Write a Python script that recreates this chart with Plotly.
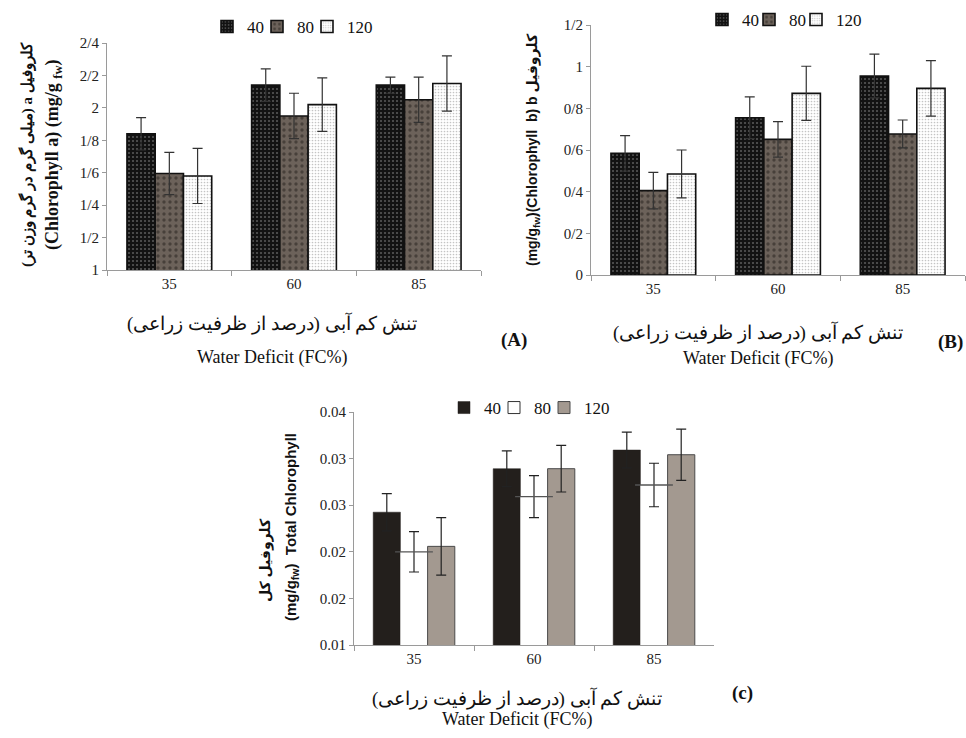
import plotly.graph_objects as go

categories = ["35", "60", "85"]
series_names = ["40", "80", "120"]

a40 = [1.84, 2.14, 2.14]
a40_err = [0.10, 0.10, 0.05]
a80 = [1.595, 1.95, 2.05]
a80_err = [0.13, 0.14, 0.14]
a120 = [1.58, 2.02, 2.15]
a120_err = [0.17, 0.165, 0.17]

b40 = [0.584, 0.755, 0.955]
b40_err = [0.085, 0.10, 0.105]
b80 = [0.405, 0.651, 0.677]
b80_err = [0.088, 0.085, 0.067]
b120 = [0.485, 0.872, 0.896]
b120_err = [0.115, 0.13, 0.133]

c40 = [0.0271, 0.0327, 0.0351]
c40_err = [0.0024, 0.0023, 0.0023]
c80 = [0.0220, 0.0291, 0.0306]
c80_err = [0.0026, 0.0027, 0.0028]
c120 = [0.0227, 0.0327, 0.0345]
c120_err = [0.0037, 0.0030, 0.0033]

a_tickvals = [1, 1.2, 1.4, 1.6, 1.8, 2, 2.2, 2.4]
a_ticktext = ["1", "1/2", "1/4", "1/6", "1/8", "2", "2/2", "2/4"]
b_tickvals = [0, 0.2, 0.4, 0.6, 0.8, 1.0, 1.2]
b_ticktext = ["0", "0/2", "0/4", "0/6", "0/8", "1", "1/2"]
c_tickvals = [0.01, 0.016, 0.022, 0.028, 0.034, 0.04]
c_ticktext = ["0.01", "0.02", "0.02", "0.03", "0.03", "0.04"]

W, H = 966, 738
SERIF = "Liberation Serif, Times New Roman, DejaVu Serif, serif"
SANS = "Liberation Sans, Arial, DejaVu Sans, sans-serif"
RLE, PDF = "\u202b", "\u202c"

def px(x):
    return x / W

def py(y):
    return 1 - y / H

fig = go.Figure()

pat_styles = [
    dict(bg="#121212", fg="#9a9a9a", size=4, sol=0.22),
    dict(bg="#6c625a", fg="#221d19", size=6, sol=0.25),
    dict(bg="#ffffff", fg="#8a8a8a", size=3, sol=0.25),
]
leg_widths = {"40": 5, "80": 5, "120": 32}

def err(arr, color="#333333", w=5):
    return dict(type="data", array=arr, visible=True, color=color, thickness=1.2, width=w)

# Panel A
for name, vals, e, st in zip(series_names, [a40, a80, a120], [a40_err, a80_err, a120_err], pat_styles):
    fig.add_trace(go.Bar(
        x=categories, y=vals, name=name, xaxis="x", yaxis="y", legend="legend",
        offsetgroup=name, legendwidth=leg_widths[name],
        marker=dict(color=st["bg"], line=dict(color="#111111", width=1.6),
                    pattern=dict(shape=".", bgcolor=st["bg"], fgcolor=st["fg"],
                                 size=st["size"], solidity=st["sol"], fillmode="overlay")),
        error_y=err(e),
    ))

# Panel B
for name, vals, e, st in zip(series_names, [b40, b80, b120], [b40_err, b80_err, b120_err], pat_styles):
    fig.add_trace(go.Bar(
        x=categories, y=vals, name=name, xaxis="x2", yaxis="y2", legend="legend2",
        offsetgroup=name, legendwidth=leg_widths[name] - 3 if name != "120" else 32,
        marker=dict(color=st["bg"], line=dict(color="#111111", width=1.6),
                    pattern=dict(shape=".", bgcolor=st["bg"], fgcolor=st["fg"],
                                 size=st["size"], solidity=st["sol"], fillmode="overlay")),
        error_y=err(e),
    ))

# Panel C
c_colors = ["#231f1c", "#ffffff", "#a39990"]
c_lines = [dict(color="#231f1c", width=0.5), dict(color="#ffffff", width=0),
           dict(color="#4a4a4a", width=1)]
for name, vals, e, col, ln in zip(series_names, [c40, c80, c120], [c40_err, c80_err, c120_err], c_colors, c_lines):
    fig.add_trace(go.Bar(
        x=categories, y=vals, name=name, xaxis="x3", yaxis="y3", legend="legend3",
        offsetgroup=name, legendwidth=leg_widths[name], legendrank=series_names.index(name) * 2 + 1,
        showlegend=(name != "80"),
        marker=dict(color=col, line=ln),
        error_y=err(e, color="#222222", w=5),
    ))
# legend entry for the white "80" bars (outlined square), sharing the bar slot
fig.add_trace(go.Bar(
    x=categories[:1], y=[None], name="80", xaxis="x3", yaxis="y3", legend="legend3",
    offsetgroup="80", legendwidth=leg_widths["80"], legendrank=4,
    marker=dict(color="#ffffff", line=dict(color="#333333", width=1)),
    hoverinfo="skip",
))
# top edge of the white "80" bars in panel C
fig.add_trace(go.Scatter(
    x=categories, y=c80, xaxis="x3", yaxis="y3", mode="markers", showlegend=False,
    offsetgroup="80",
    marker=dict(symbol="line-ew", size=27, line=dict(color="#555555", width=1.3)),
    hoverinfo="skip",
))

axis_common = dict(showgrid=False, zeroline=False, showline=True, linecolor="#9a9a9a", linewidth=1,
                   ticks="outside", tickcolor="#9a9a9a", ticklen=4,
                   tickfont=dict(family=SERIF, size=15, color="#222222"))
xaxis_common = dict(axis_common, tickson="boundaries", ticklen=5, type="category")

leg_common = dict(orientation="h", xanchor="left", yanchor="middle",
                  xref="container", yref="container",
                  font=dict(family=SERIF, size=17, color="#111111"), itemwidth=30,
                  entrywidthmode="pixels", bgcolor="rgba(0,0,0,0)", borderwidth=0,
                  tracegroupgap=0)

fig.update_layout(
    width=W, height=H, margin=dict(l=0, r=0, t=0, b=0, autoexpand=False),
    paper_bgcolor="white", plot_bgcolor="white",
    barmode="group", bargap=0.32, bargroupgap=0,
    scattermode="group", scattergap=0.32,
    showlegend=True,
    xaxis=dict(xaxis_common, domain=[px(107), px(481)], anchor="y"),
    yaxis=dict(axis_common, domain=[py(270), py(43)], anchor="x", range=[1, 2.4],
               tickvals=a_tickvals, ticktext=a_ticktext),
    xaxis2=dict(xaxis_common, domain=[px(591), px(965)], anchor="y2"),
    yaxis2=dict(axis_common, domain=[py(275), py(25)], anchor="x2", range=[0, 1.2],
                tickvals=b_tickvals, ticktext=b_ticktext),
    xaxis3=dict(xaxis_common, domain=[px(354), px(714)], anchor="y3"),
    yaxis3=dict(axis_common, domain=[py(645), py(412)], anchor="x3", range=[0.01, 0.04],
                tickvals=c_tickvals, ticktext=c_ticktext),
    legend=dict(leg_common, x=px(207), y=py(27)),
    legend2=dict(leg_common, x=px(702), y=py(20)),
    legend3=dict(leg_common, x=px(444), y=py(408)),
)

fa = RLE + "تنش کم آبی (درصد از ظرفیت زراعی)" + PDF
en = "Water Deficit (FC%)"
ann = []
def add_ann(x, y, text, font, angle=0):
    ann.append(dict(x=px(x), y=py(y), text=text, showarrow=False, xref="paper", yref="paper",
                    xanchor="center", yanchor="middle", textangle=angle, font=font))

for cx, y1, y2 in [(272, 323, 357), (758, 332, 358), (517, 698, 719)]:
    add_ann(cx, y1, fa, dict(family=SERIF, size=19, color="#111111"))
    add_ann(cx, y2, en, dict(family=SERIF, size=18, color="#111111"))
for lbl, cx, cy in [("(A)", 514, 340), ("(B)", 950, 342), ("(c)", 742, 693)]:
    add_ann(cx, cy, "<b>" + lbl + "</b>", dict(family=SERIF, size=19, color="#111111"))

# y-axis titles
add_ann(27, 155, "<b>" + RLE + "کلروفیل a (میلی گرم در گرم وزن تر)" + PDF + "</b>",
        dict(family=SERIF, size=15, color="#111111"), angle=-90)
add_ann(54, 155, "<b>(Chlorophyll a) (mg/g <sub>fw</sub>)</b>",
        dict(family=SERIF, size=18, color="#111111"), angle=-90)
add_ann(533, 150, "<b>(mg/g<sub>fw</sub>)(Chlorophyll  b) b کلروفیل</b>",
        dict(family=SANS, size=14, color="#111111"), angle=-90)
add_ann(265, 560, "<b>" + RLE + "کلروفیل کل" + PDF + "</b>",
        dict(family=SANS, size=14, color="#111111"), angle=-90)
add_ann(291, 527, "<b>(mg/g<sub>fw</sub>)  Total Chlorophyll</b>",
        dict(family=SANS, size=15, color="#111111"), angle=-90)
fig.update_layout(annotations=ann)

fig.write_html("out.html", config={"displayModeBar": False},
               post_script="document.body.style.margin='0';document.body.style.padding='0';"
                           "document.body.style.overflow='hidden';")
